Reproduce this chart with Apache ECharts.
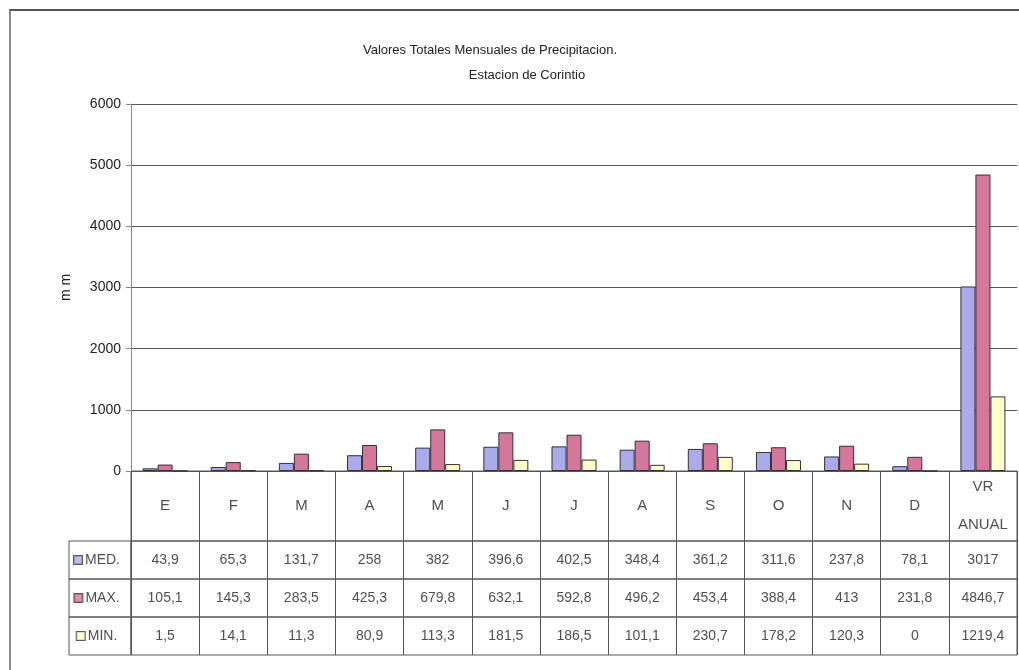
<!DOCTYPE html>
<html>
<head>
<meta charset="utf-8">
<script src="https://cdn.jsdelivr.net/npm/echarts@6/dist/echarts.min.js"></script>
<style>
html,body{margin:0;padding:0;background:#fff;}
#c{position:absolute;left:0;top:0;width:1019px;height:670px;}
#frame{position:absolute;left:9px;top:9px;width:1020px;height:670px;border-top:2px solid #555;border-left:2px solid #888;pointer-events:none;}
</style>
</head>
<body>
<div id="c"></div>
<div id="frame"></div>
<script>
var categories = ['E','F','M','A','M','J','J','A','S','O','N','D','VR\nANUAL'];
var rowNames = ['MED.','MAX.','MIN.'];
var med = [43.9,65.3,131.7,258,382,396.6,402.5,348.4,361.2,311.6,237.8,78.1,3017];
var max = [105.1,145.3,283.5,425.3,679.8,632.1,592.8,496.2,453.4,388.4,413,231.8,4846.7];
var min = [1.5,14.1,11.3,80.9,113.3,181.5,186.5,101.1,230.7,178.2,120.3,0,1219.4];
var yTicks = [0,1000,2000,3000,4000,5000,6000];

var colors = ['#ABABEB','#D5779A','#FFFFCC'];
var FONT = '"Liberation Sans Narrow","Arial Narrow","Liberation Sans",Arial,sans-serif';
var lineC = '#555';

function fmt(v){ return String(v).replace('.', ','); }
var rows = [med, max, min];

var L = 131, R = 2, ROW_TOP = 541, ROW_H = 38;
var grids = [
  {left: L, right: R, top: 104, bottom: 199},
  {left: L, right: R, top: 471, height: 70, show: true, borderColor: lineC, borderWidth: 1}
];
var xAxes = [
  {gridIndex: 0, type: 'category', data: categories, axisLabel: {show: false},
   axisTick: {show: false}, axisLine: {lineStyle: {color: lineC}}},
  {gridIndex: 1, type: 'category', data: categories, axisLabel: {show: false}, axisTick: {show: false},
   axisLine: {show: false}, splitLine: {show: true, interval: 0, lineStyle: {color: lineC}}}
];
var yAxes = [
  {gridIndex: 0, type: 'value', min: yTicks[0], max: yTicks[yTicks.length-1], interval: 1000,
   name: 'm m', nameLocation: 'middle', nameRotate: 90, nameGap: 58,
   nameTextStyle: {fontFamily: FONT, fontSize: 14, color: '#222'},
   axisLine: {show: true, lineStyle: {color: '#888'}},
   axisTick: {show: true, length: 5, lineStyle: {color: '#888'}},
   axisLabel: {fontFamily: FONT, fontSize: 14, color: '#222', margin: 10,
     formatter: function(v){ return String(v); }},
   splitLine: {lineStyle: {color: lineC}}},
  {gridIndex: 1, type: 'category', data: [''], axisLabel: {show: false}, axisTick: {show: false}, axisLine: {show: false}}
];
var series = [
  {name: 'MED.', type: 'bar', data: med, barWidth: 15, barGap: '0%',
   itemStyle: {color: colors[0], borderColor: '#333', borderWidth: 1}},
  {name: 'MAX.', type: 'bar', data: max, barWidth: 15, barGap: '0%',
   itemStyle: {color: colors[1], borderColor: '#333', borderWidth: 1}},
  {name: 'MIN.', type: 'bar', data: min, barWidth: 15, barGap: '0%',
   itemStyle: {color: colors[2], borderColor: '#333', borderWidth: 1}},
  {type: 'scatter', xAxisIndex: 1, yAxisIndex: 1, symbolSize: 1, silent: true,
   data: categories.map(function(n, c){ return [c, 0, n]; }),
   itemStyle: {color: 'rgba(0,0,0,0)'},
   label: {show: true, position: 'inside', formatter: function(p){ return p.value[2]; },
     fontFamily: FONT, fontSize: 15, color: '#222', lineHeight: 38, align: 'center', verticalAlign: 'middle'}}
];

rows.forEach(function(arr, r){
  var top = ROW_TOP + r * ROW_H;
  // value cells
  var gi = grids.length;
  grids.push({left: L, right: R, top: top, height: ROW_H, show: true, borderColor: lineC, borderWidth: 1});
  xAxes.push({gridIndex: gi, type: 'category', data: categories, axisLabel: {show: false}, axisTick: {show: false},
    axisLine: {show: false}, splitLine: {show: true, interval: 0, lineStyle: {color: lineC}}});
  yAxes.push({gridIndex: gi, type: 'category', data: [rowNames[r]], axisLabel: {show: false},
    axisTick: {show: false}, axisLine: {show: false}});
  series.push({type: 'scatter', xAxisIndex: gi, yAxisIndex: gi, symbolSize: 1, silent: true,
    data: arr.map(function(v, c){ return [c, 0, fmt(v)]; }),
    itemStyle: {color: 'rgba(0,0,0,0)'},
    label: {show: true, position: 'inside', formatter: function(p){ return p.value[2]; },
      fontFamily: FONT, fontSize: 14, color: '#222'}});
  // legend cell
  var gl = grids.length;
  grids.push({left: 69, width: 62, top: top, height: ROW_H, show: true, borderColor: lineC, borderWidth: 1});
  xAxes.push({gridIndex: gl, type: 'category', data: [''], axisLabel: {show: false}, axisTick: {show: false}, axisLine: {show: false}});
  yAxes.push({gridIndex: gl, type: 'category', data: [rowNames[r]], axisLabel: {show: false}, axisTick: {show: false}, axisLine: {show: false}});
  var rich = {k: {width: 8, height: 8, backgroundColor: colors[r], borderColor: '#333', borderWidth: 1},
              t: {fontFamily: FONT, fontSize: 14, color: '#222', padding: [0, 0, 0, 3]}};
  series.push({type: 'scatter', xAxisIndex: gl, yAxisIndex: gl, symbolSize: 1, silent: true,
    data: [[0, 0, rowNames[r]]],
    itemStyle: {color: 'rgba(0,0,0,0)'},
    label: {show: true, position: 'inside', offset: [-3, 0], rich: rich,
      formatter: function(p){ return '{k|}{t|' + p.value[2] + '}'; }}});
});

var chart = echarts.init(document.getElementById('c'));
chart.setOption({
  animation: false,
  title: [
    {text: 'Valores Totales Mensuales de Precipitacion.', left: 485, top: 39, textAlign: 'center',
     textStyle: {fontFamily: FONT, fontSize: 13, fontWeight: 'normal', color: '#222'}},
    {text: 'Estacion de Corintio', left: 522, top: 64, textAlign: 'center',
     textStyle: {fontFamily: FONT, fontSize: 13, fontWeight: 'normal', color: '#222'}}
  ],
  grid: grids,
  xAxis: xAxes,
  yAxis: yAxes,
  series: series
});
</script>
</body>
</html>
